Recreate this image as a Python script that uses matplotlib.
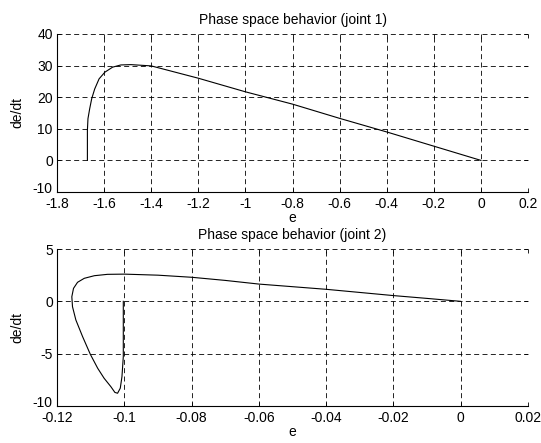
import matplotlib as mpl
mpl.use("Agg")
import matplotlib.pyplot as plt
import matplotlib.transforms as mtrans

plt.rcParams["font.family"] = ["Liberation Sans", "DejaVu Sans"]
plt.rcParams["font.size"] = 10

# joint 1 phase trajectory
e1 = [-1.671, -1.671, -1.6686, -1.6614, -1.6528, -1.64, -1.6214, -1.597,
      -1.564, -1.529, -1.486, -1.443, -1.4,
      -1.2, -1.0, -0.8, -0.6, -0.4, -0.2, 0.0]
de1 = [0, 9.5, 13.2, 16.3, 19.5, 22.6, 25.8, 27.9,
       29.5, 30.2, 30.3, 30.1, 29.9,
       26.0, 21.7, 17.8, 13.3, 9.0, 4.5, 0]

# joint 2 phase trajectory
e2 = [-0.1003, -0.1003, -0.1003, -0.1007, -0.1012, -0.102, -0.1028, -0.104,
      -0.106, -0.1079, -0.1101, -0.1124, -0.1144, -0.1154, -0.1156, -0.1151,
      -0.1139, -0.1119, -0.1089, -0.105, -0.1,
      -0.09, -0.08, -0.07, -0.06, -0.05, -0.04, -0.03, -0.02, -0.01, 0.0]
de2 = [0, -2.5, -5.3, -7.2, -8.3, -8.78, -8.7, -8.15,
       -7.35, -6.4, -5.06, -3.37, -1.78, -0.51, 0.44, 1.24,
       1.82, 2.2, 2.45, 2.58, 2.6,
       2.5, 2.3, 2.0, 1.65, 1.4, 1.15, 0.85, 0.55, 0.28, 0]

xt1 = [-1.8, -1.6, -1.4, -1.2, -1, -0.8, -0.6, -0.4, -0.2, 0, 0.2]
xl1 = ["-1.8", "-1.6", "-1.4", "-1.2", "-1", "-0.8", "-0.6", "-0.4", "-0.2", "0", "0.2"]
yt1 = [-10, 0, 10, 20, 30, 40]
xt2 = [-0.12, -0.1, -0.08, -0.06, -0.04, -0.02, 0, 0.02]
xl2 = ["-0.12", "-0.1", "-0.08", "-0.06", "-0.04", "-0.02", "0", "0.02"]
yt2 = [-10, -5, 0, 5]

fig = plt.figure(figsize=(5.41, 4.43), dpi=100)
fig.patch.set_facecolor("white")

ax1 = fig.add_axes([0.1054, 0.5666, 0.8706, 0.3567])
ax2 = fig.add_axes([0.1054, 0.0835, 0.8706, 0.3544])


def style(ax, xt, xl, yt, title):
    ax.set_xlim(xt[0], xt[-1])
    ax.set_ylim(yt[0], yt[-1])
    ax.set_xticks(xt)
    ax.set_xticklabels(xl)
    ax.set_yticks(yt)
    ax.set_yticklabels([str(v) for v in yt])
    ax.grid(True, color="black", linestyle=(0, (6, 4)), linewidth=0.6)
    ax.spines["top"].set_visible(False)
    ax.spines["right"].set_visible(False)
    ax.spines["left"].set_linewidth(0.8)
    ax.spines["bottom"].set_linewidth(0.8)
    ax.tick_params(direction="in", length=3, width=0.6, top=True, right=True,
                   labelsize=10)
    ax.tick_params(axis="x", pad=3.5)
    ax.tick_params(axis="y", pad=3)
    ax.set_title(title, fontsize=10, pad=7)
    ax.set_xlabel("e", fontsize=10, labelpad=0)
    ax.set_ylabel("de/dt", fontsize=10, labelpad=6)
    # lift the lowest y label a little so it clears the first x label
    lab = ax.get_yticklabels()[0]
    lab.set_transform(lab.get_transform() +
                      mtrans.ScaledTranslation(0, 3 / 72, fig.dpi_scale_trans))


ax1.plot(e1, de1, color="black", linewidth=0.8)
style(ax1, xt1, xl1, yt1, "Phase space behavior (joint 1)")

ax2.plot(e2, de2, color="black", linewidth=0.8)
style(ax2, xt2, xl2, yt2, "Phase space behavior (joint 2)")

plt.savefig("out.png", dpi=100)
